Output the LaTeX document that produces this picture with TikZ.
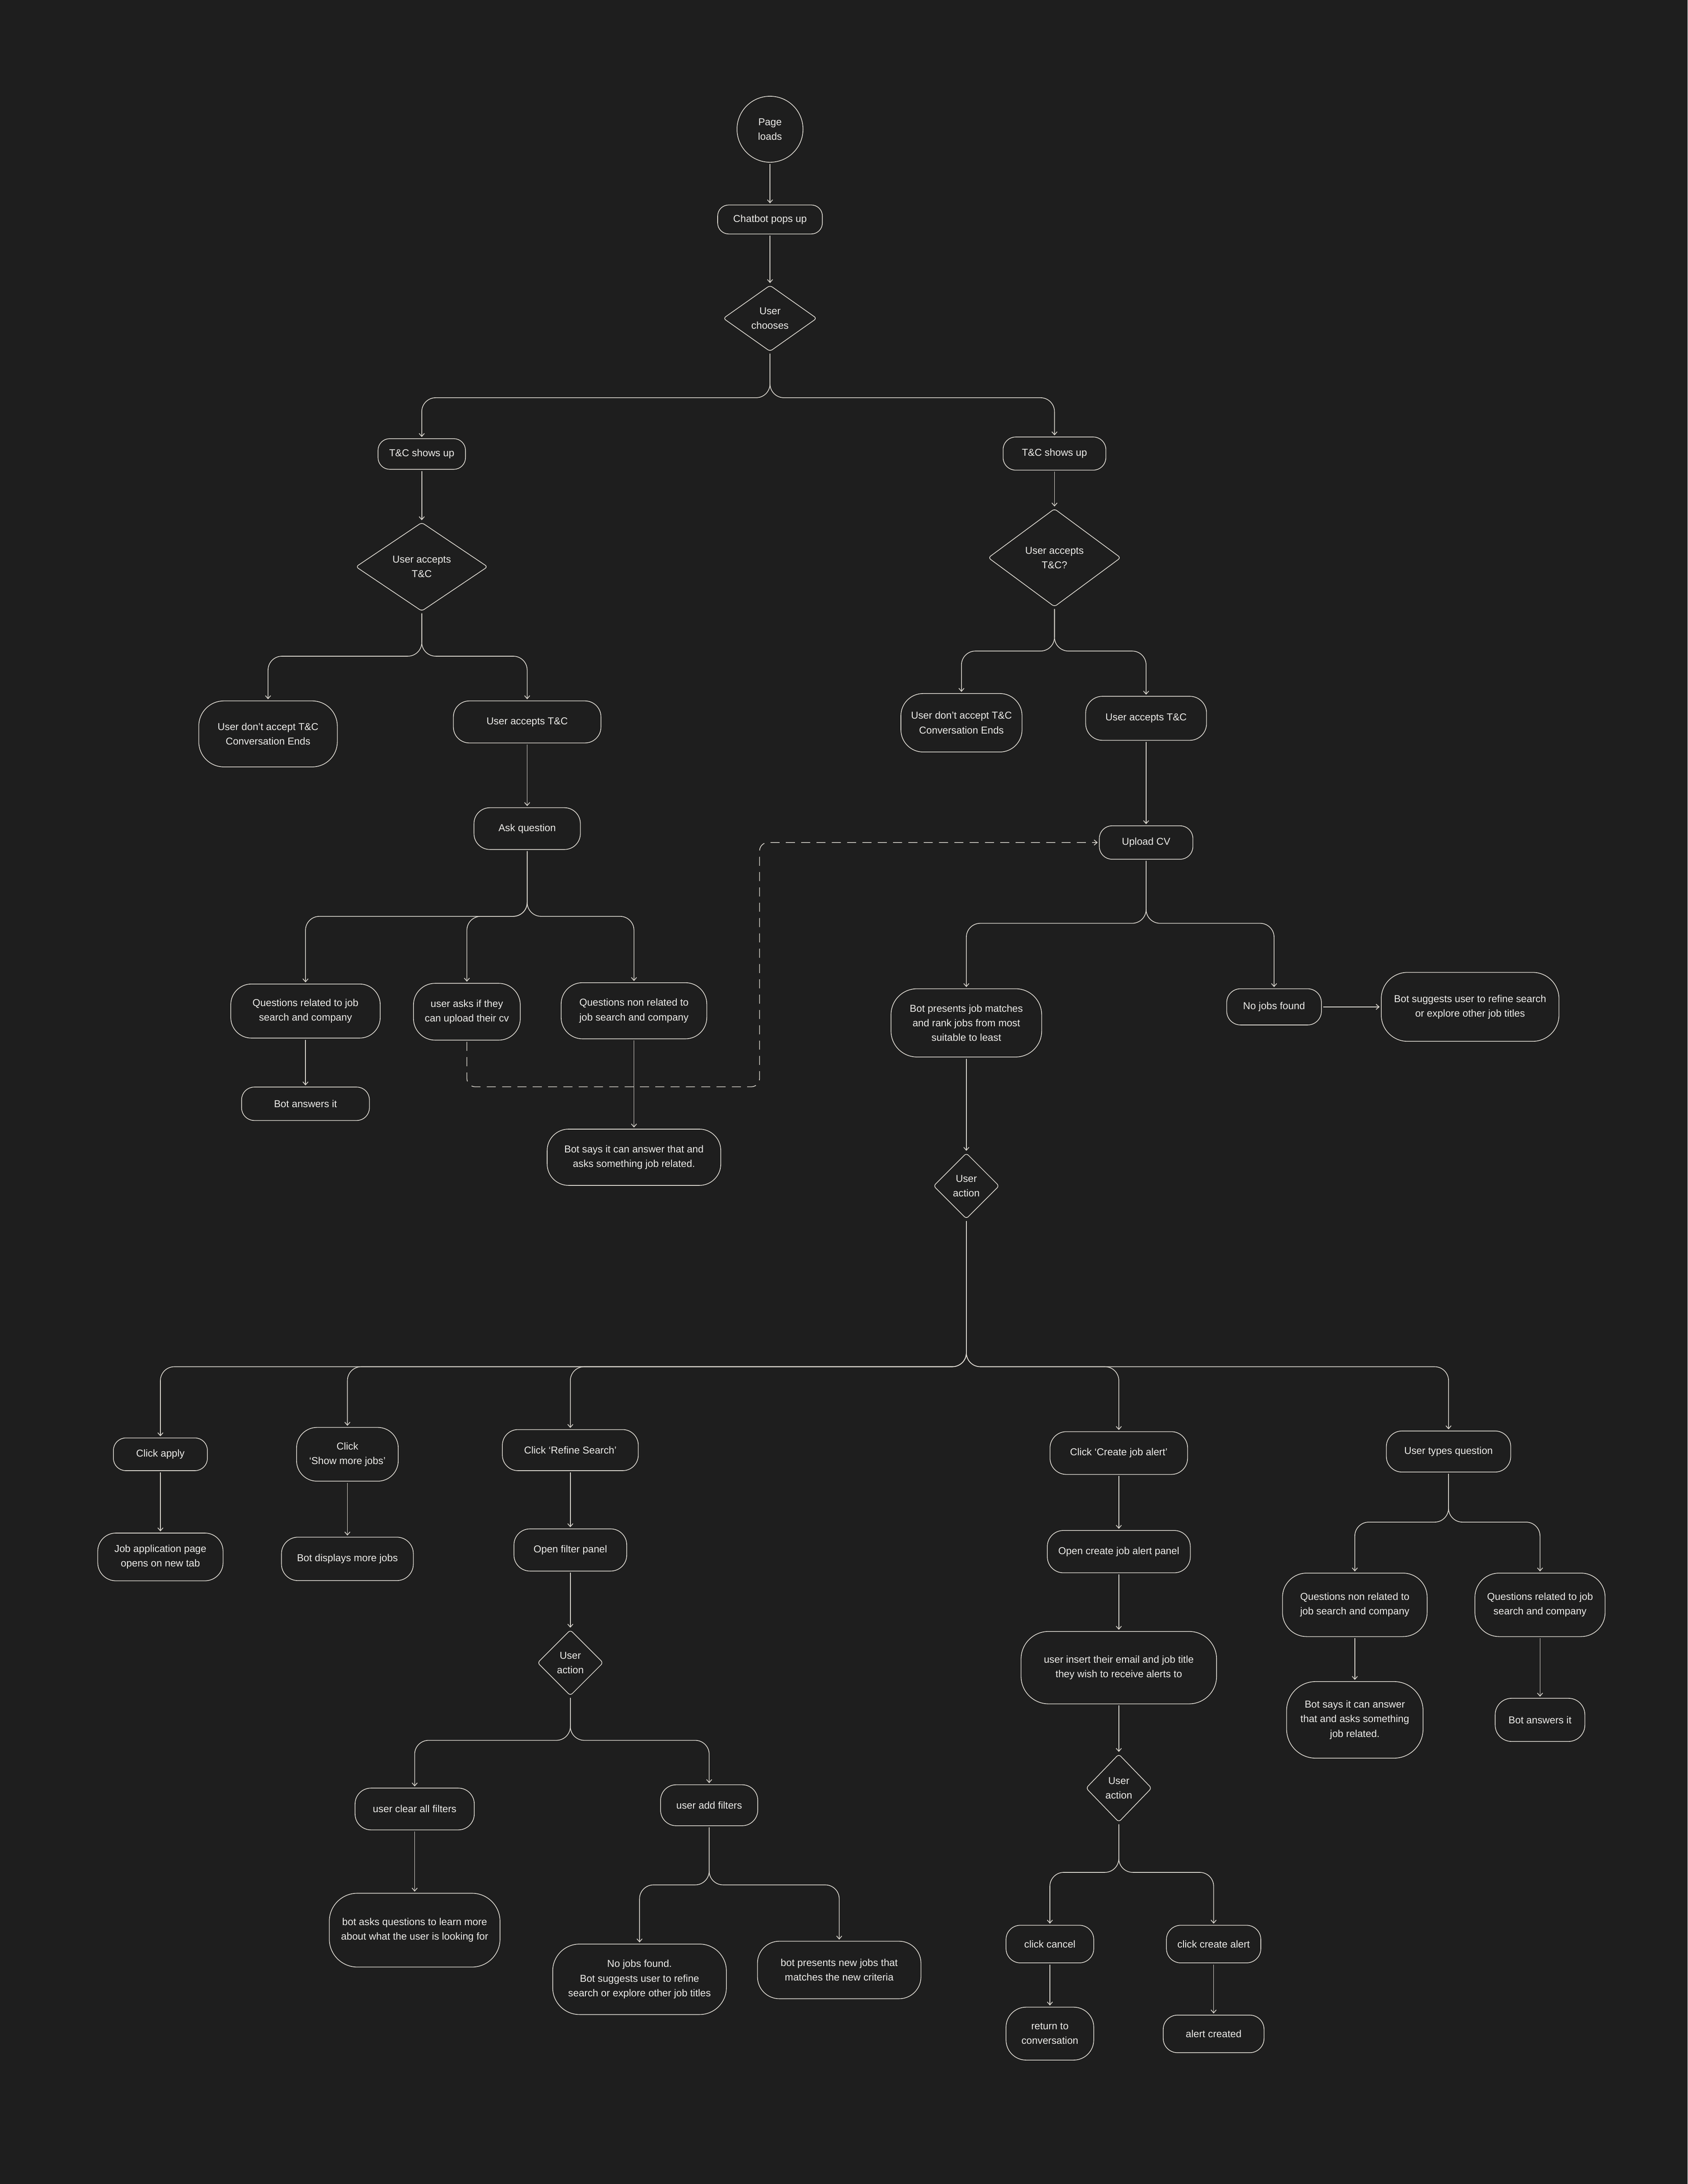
\documentclass[tikz,border=0pt]{standalone}
\usepackage{fontspec}
\setmainfont{Liberation Sans}
\usetikzlibrary{shapes.geometric,arrows.meta}
\definecolor{bg}{HTML}{1E1E1E}
\definecolor{linecol}{RGB}{222,218,210}
\definecolor{textcol}{RGB}{238,237,234}
\tikzset{every picture/.style={line width=0.5pt}}
\tikzset{
	label font/.style={text=textcol, font=\fontsize{7.2pt}{10.5pt}\selectfont, align=center},
	start/.style={circle, draw=linecol, minimum size=47.4pt, inner sep=0pt, outer sep=1.2pt, label font},
	box/.style 2 args={rectangle, draw=linecol, rounded corners={0.38*#2pt}, minimum width=#1pt, minimum height=#2pt, inner sep=1pt, outer sep=1.2pt, label font},
	choice/.style 2 args={diamond, draw=linecol, rounded corners=2pt, minimum width=#1pt, minimum height=#2pt, inner sep=0pt, outer sep=1.2pt, label font},
	flow/.style={draw=linecol, rounded corners=10pt, -{Straight Barb[length=2.2pt,width=3.8pt]}},
	dashflow/.style={flow, rounded corners=6pt, dash pattern=on 6.5pt off 4.5pt}
}

\begin{document}
\begin{tikzpicture}[x=1pt,y=1pt,yscale=-1,xscale=1]
	%Background
	\fill [bg] (0,0) rectangle (1212,1568.3);
	
	% Start Node
	\draw (553,92.8) node [start] (load) {Page\\loads};
	% Text Node
	\draw (553,157.6) node [box={75.2}{20.8}] (popup) {Chatbot pops up};
	%Shape: Diamond
	\draw (553,228.6) node [choice={68}{48.3}] (choose) {User\\chooses};
	\coordinate (s1) at (553,285.6);
	
	%Left T&C branch
	\draw (302.9,326) node [box={62.8}{22}] (tcL) {T\&C shows up};
	%Shape: Diamond
	\draw (302.9,407) node [choice={95.5}{64.5}] (accL) {User accepts\\T\&C};
	\coordinate (s2) at (302.9,471.2);
	% Text Node
	\draw (192.5,527) node [box={99.5}{47.4}] (quitL) {User don’t accept T\&C\\Conversation Ends};
	% Text Node
	\draw (378.6,518.4) node [box={106}{30.2}] (okL) {User accepts T\&C};
	% Text Node
	\draw (378.6,595) node [box={76.4}{30}] (ask) {Ask question};
	\coordinate (s3) at (378.6,658);
	% Text Node
	\draw (219.4,726) node [box={107.3}{38.8}] (qjob) {Questions related to job\\search and company};
	% Text Node
	\draw (335.3,726.5) node [box={76.7}{40.8}] (qcv) {user asks if they\\can upload their cv};
	% Text Node
	\draw (455.3,725.8) node [box={104.6}{40.3}] (qoff) {Questions non related to\\job search and company};
	% Text Node
	\draw (219.4,792.6) node [box={91.8}{24}] (ansL) {Bot answers it};
	% Text Node
	\draw (455.3,831) node [box={124.7}{40.4}] (offL) {Bot says it can answer that and\\asks something job related.};
	\coordinate (loop) at (545.5,780.4);
	
	%Right T&C branch
	\draw (757.3,325.7) node [box={73.8}{23.8}] (tcR) {T\&C shows up};
	%Shape: Diamond
	\draw (757.3,400.5) node [choice={96}{71.2}] (accR) {User accepts\\T\&C?};
	\coordinate (s4) at (757.3,467.5);
	% Text Node
	\draw (690.5,519) node [box={87}{42}] (quitR) {User don’t accept T\&C\\Conversation Ends};
	% Text Node
	\draw (823.1,515.8) node [box={86.8}{31.6}] (okR) {User accepts T\&C};
	% Text Node
	\draw (823.1,605) node [box={67.2}{24}] (cv) {Upload CV};
	\coordinate (s5) at (823.1,663);
	% Text Node
	\draw (694,734.5) node [box={108.2}{49}] (match) {Bot presents job matches\\and rank jobs from most\\suitable to least};
	% Text Node
	\draw (915,723) node [box={68}{26}] (none) {No jobs found};
	% Text Node
	\draw (1055.8,723) node [box={127.6}{49.5}] (hint) {Bot suggests user to refine search\\or explore other job titles};
	%Shape: Diamond
	\draw (694,851.6) node [choice={48}{48}] (act) {User\\action};
	\coordinate (s6) at (694,981.4);
	
	%User actions
	\draw (115.2,1044.3) node [box={67.5}{23.5}] (apply) {Click apply};
	% Text Node
	\draw (249.5,1044.3) node [box={73}{38.6}] (more) {Click\\‘Show more jobs’};
	% Text Node
	\draw (409.6,1041.3) node [box={97.6}{29.5}] (refine) {Click ‘Refine Search’};
	% Text Node
	\draw (803.5,1043.4) node [box={98.8}{30.7}] (alert) {Click ‘Create job alert’};
	% Text Node
	\draw (1040.3,1042.3) node [box={89.3}{29.5}] (type) {User types question};
	% Text Node
	\draw (115.2,1118) node [box={90}{34.3}] (tab) {Job application page\\opens on new tab};
	% Text Node
	\draw (249.5,1119.4) node [box={94.7}{31.2}] (shown) {Bot displays more jobs};
	% Text Node
	\draw (409.6,1113) node [box={81}{30.3}] (filter) {Open filter panel};
	%Shape: Diamond
	\draw (409.6,1194) node [choice={48}{48}] (act2) {User\\action};
	\coordinate (s7) at (409.6,1249.7);
	% Text Node
	\draw (297.8,1299) node [box={85.6}{30}] (clear) {user clear all filters};
	% Text Node
	\draw (509.3,1296.3) node [box={69.8}{29.4}] (add) {user add filters};
	% Text Node
	\draw (297.8,1386) node [box={122.6}{53}] (learn) {bot asks questions to learn more\\about what the user is looking for};
	\coordinate (s8) at (509.3,1353.5);
	% Text Node
	\draw (459.3,1421.3) node [box={124.7}{50.6}] (nojob) {No jobs found.\\Bot suggests user to refine\\search or explore other job titles};
	% Text Node
	\draw (602.7,1414.6) node [box={117.4}{41.3}] (newjob) {bot presents new jobs that\\matches the new criteria};
	
	%Job alert
	\draw (803.5,1114.2) node [box={102.7}{30.4}] (panel) {Open create job alert panel};
	% Text Node
	\draw (803.5,1197.5) node [box={140.4}{52}] (email) {user insert their email and job title\\they wish to receive alerts to};
	%Shape: Diamond
	\draw (803.5,1284) node [choice={48}{49.6}] (act3) {User\\action};
	\coordinate (s9) at (803.5,1344.5);
	% Text Node
	\draw (754,1396) node [box={63}{27}] (cancel) {click cancel};
	% Text Node
	\draw (871.6,1396) node [box={67.8}{27}] (create) {click create alert};
	% Text Node
	\draw (754,1460.3) node [box={63}{38}] (back) {return to\\conversation};
	% Text Node
	\draw (871.6,1460.5) node [box={72.4}{27}] (done) {alert created};
	
	%User question
	\coordinate (s10) at (1040.3,1093);
	\draw (973,1152.4) node [box={103.9}{45.6}] (qoffR) {Questions non related to\\job search and company};
	% Text Node
	\draw (1106,1152.4) node [box={93.5}{45.6}] (qjobR) {Questions related to job\\search and company};
	% Text Node
	\draw (973,1235) node [box={98}{55}] (offR) {Bot says it can answer\\that and asks something\\job related.};
	% Text Node
	\draw (1106,1235) node [box={64.4}{31}] (ansR) {Bot answers it};
	
	%Straight Lines
	\draw [flow] (load) -- (popup);
	\draw [flow] (popup) -- (choose);
	\draw [flow] (choose.south) -- (s1) -- (s1 -| tcL.north) -- (tcL.north);
	\draw [flow] (choose.south) -- (s1) -- (s1 -| tcR.north) -- (tcR.north);
	\draw [flow] (tcL) -- (accL);
	\draw [flow] (tcR) -- (accR);
	\draw [flow] (accL.south) -- (s2) -- (s2 -| quitL.north) -- (quitL.north);
	\draw [flow] (accL.south) -- (s2) -- (s2 -| okL.north) -- (okL.north);
	\draw [flow] (okL) -- (ask);
	\draw [flow] (ask.south) -- (s3) -- (s3 -| qjob.north) -- (qjob.north);
	\draw [flow] (ask.south) -- (s3) -- (s3 -| qcv.north) -- (qcv.north);
	\draw [flow] (ask.south) -- (s3) -- (s3 -| qoff.north) -- (qoff.north);
	\draw [flow] (qjob) -- (ansL);
	\draw [flow] (qoff) -- (offL);
	\draw [dashflow] (qcv.south) |- (loop) -- (loop |- cv.west) -- (cv.west);
	\draw [flow] (accR.south) -- (s4) -- (s4 -| quitR.north) -- (quitR.north);
	\draw [flow] (accR.south) -- (s4) -- (s4 -| okR.north) -- (okR.north);
	\draw [flow] (okR) -- (cv);
	\draw [flow] (cv.south) -- (s5) -- (s5 -| match.north) -- (match.north);
	\draw [flow] (cv.south) -- (s5) -- (s5 -| none.north) -- (none.north);
	\draw [flow] (none) -- (hint);
	\draw [flow] (match) -- (act);
	\draw [flow] (act.south) -- (s6) -- (s6 -| apply.north) -- (apply.north);
	\draw [flow] (act.south) -- (s6) -- (s6 -| more.north) -- (more.north);
	\draw [flow] (act.south) -- (s6) -- (s6 -| refine.north) -- (refine.north);
	\draw [flow] (act.south) -- (s6) -- (s6 -| alert.north) -- (alert.north);
	\draw [flow] (act.south) -- (s6) -- (s6 -| type.north) -- (type.north);
	\draw [flow] (apply) -- (tab);
	\draw [flow] (more) -- (shown);
	\draw [flow] (refine) -- (filter);
	\draw [flow] (filter) -- (act2);
	\draw [flow] (act2.south) -- (s7) -- (s7 -| clear.north) -- (clear.north);
	\draw [flow] (act2.south) -- (s7) -- (s7 -| add.north) -- (add.north);
	\draw [flow] (clear) -- (learn);
	\draw [flow] (add.south) -- (s8) -- (s8 -| nojob.north) -- (nojob.north);
	\draw [flow] (add.south) -- (s8) -- (s8 -| newjob.north) -- (newjob.north);
	\draw [flow] (alert) -- (panel);
	\draw [flow] (panel) -- (email);
	\draw [flow] (email) -- (act3);
	\draw [flow] (act3.south) -- (s9) -- (s9 -| cancel.north) -- (cancel.north);
	\draw [flow] (act3.south) -- (s9) -- (s9 -| create.north) -- (create.north);
	\draw [flow] (cancel) -- (back);
	\draw [flow] (create) -- (done);
	\draw [flow] (type.south) -- (s10) -- (s10 -| qoffR.north) -- (qoffR.north);
	\draw [flow] (type.south) -- (s10) -- (s10 -| qjobR.north) -- (qjobR.north);
	\draw [flow] (qoffR) -- (offR);
	\draw [flow] (qjobR) -- (ansR);
	
\end{tikzpicture}
\end{document}
